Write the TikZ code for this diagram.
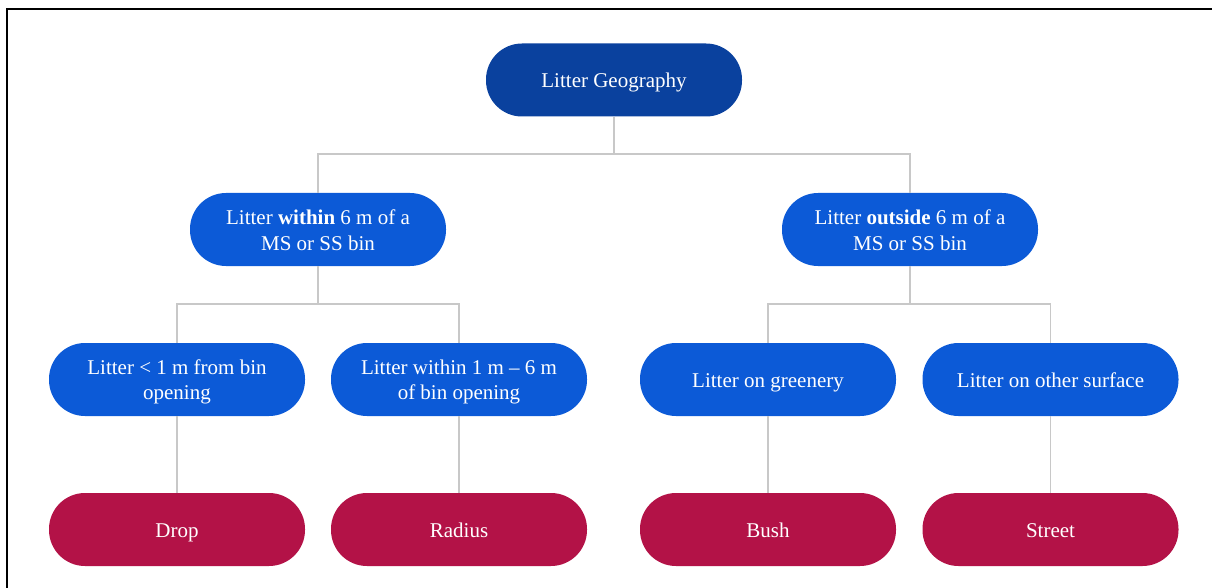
\documentclass[tikz,border=0pt]{standalone}
\usepackage{fontspec}
\setmainfont{Liberation Serif}
\definecolor{topblue}{HTML}{0A419E}
\definecolor{midblue}{HTML}{0C5AD7}
\definecolor{leafred}{HTML}{B31247}
\definecolor{linegray}{HTML}{C8C8C8}
\newcommand\pillstrut{\rule[-4.5pt]{0pt}{25pt}}
\begin{document}
\begin{tikzpicture}[x=1pt,y=-1pt,
  pill/.style={rectangle, rounded corners=36pt, minimum width=256pt, minimum height=73pt,
    text=white, align=center, inner sep=0pt, font=\fontsize{21}{25}\selectfont},
  topbox/.style={pill, fill=topblue},
  midbox/.style={pill, fill=midblue},
  leafbox/.style={pill, fill=leafred},
  conn/.style={draw=linegray, line width=1.5pt}]
\useasboundingbox (0,0) rectangle (1212,588);
\draw[line width=2.5pt] (7,588) -- (7,9) -- (1212,9);
\node[topbox] (root) at (614,80) {\pillstrut Litter Geography};
\node[midbox] (within) at (318,229.5) {\pillstrut Litter \textbf{within} 6 m of a\\\pillstrut MS or SS bin};
\node[midbox] (outside) at (910,229.5) {\pillstrut Litter \textbf{outside} 6 m of a\\\pillstrut MS or SS bin};
\node[midbox] (lt1) at (177,379.5) {\pillstrut Litter < 1 m from bin\\\pillstrut opening};
\node[midbox] (w16) at (459,379.5) {\pillstrut Litter within 1 m – 6 m\\\pillstrut of bin opening};
\node[midbox] (green) at (768,379.5) {\pillstrut Litter on greenery};
\node[midbox] (other) at (1050.5,379.5) {\pillstrut Litter on other surface};
\node[leafbox] (drop) at (177,529.5) {\pillstrut Drop};
\node[leafbox] (radius) at (459,529.5) {\pillstrut Radius};
\node[leafbox] (bush) at (768,529.5) {\pillstrut Bush};
\node[leafbox] (street) at (1050.5,529.5) {\pillstrut Street};
\coordinate (j1) at (614,154);
\coordinate (j2) at (318,304);
\coordinate (j3) at (910,304);
\draw[conn] (root.south) -- (j1);
\draw[conn] (within.north) |- (j1) -| (outside.north);
\draw[conn] (within.south) -- (j2);
\draw[conn] (lt1.north) |- (j2) -| (w16.north);
\draw[conn] (outside.south) -- (j3);
\draw[conn] (green.north) |- (j3) -| (other.north);
\draw[conn] (lt1.south) -- (drop.north);
\draw[conn] (w16.south) -- (radius.north);
\draw[conn] (green.south) -- (bush.north);
\draw[conn] (other.south) -- (street.north);
\end{tikzpicture}
\end{document}
